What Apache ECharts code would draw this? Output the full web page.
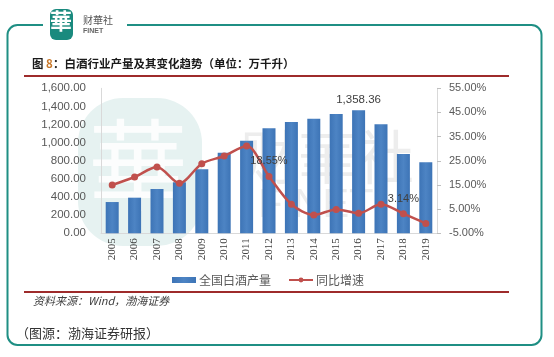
<!DOCTYPE html>
<html>
<head>
<meta charset="utf-8">
<script src="https://cdn.jsdelivr.net/npm/echarts@6/dist/echarts.min.js"></script>
<style>
html,body{margin:0;padding:0;background:#fff;}
#chart{width:554px;height:357px;}
</style>
</head>
<body>
<div id="chart"></div>
<script>
const years = ['2005','2006','2007','2008','2009','2010','2011','2012','2013','2014','2015','2016','2017','2018','2019'];
const production = [345, 393, 489, 563, 706, 890, 1022, 1159, 1228, 1265, 1317, 1358.36, 1203, 875, 784];
const growth = [15.0, 18.3, 22.4, 15.7, 23.8, 27.0, 31.1, 18.55, 7.0, 2.6, 4.9, 3.3, 7.0, 3.14, -0.9];
const leftTicks = [0, 200, 400, 600, 800, 1000, 1200, 1400, 1600];
const rightTicks = [-5, 5, 15, 25, 35, 45, 55];
const barLabelYears = ['2016'];
const lineLabelYears = ['2012', '2018'];

const chart = echarts.init(document.getElementById('chart'), null, {renderer: 'canvas'});

function fmtNum(v) {
  return Number(v).toLocaleString('en-US', {minimumFractionDigits: 2, maximumFractionDigits: 2});
}

const teal = '#1f8f84';

const option = {
  backgroundColor: '#ffffff',
  animation: false,
  textStyle: {fontFamily: 'Liberation Sans, Arial, sans-serif'},
  grid: {left: 101, right: 117, top: 88.3, bottom: 123.7, outerBoundsMode: 'none', containLabel: false},
  legend: {
    left: 167, top: 269,
    itemGap: 17,
    itemWidth: 24, itemHeight: 6,
    textStyle: {color: '#595959', fontSize: 12, fontFamily: 'Noto Sans CJK SC', padding: [0, 0, 0, -2]},
    data: [
      {name: '全国白酒产量', icon: 'rect'},
      {name: '同比增速'}
    ]
  },
  xAxis: {
    type: 'category',
    data: years,
    axisLine: {lineStyle: {color: '#d9d9d9', width: 1}},
    axisTick: {show: false},
    axisLabel: {rotate: 90, margin: 5, color: '#404040', fontSize: 11, fontFamily: 'Liberation Serif, Times New Roman, serif'}
  },
  yAxis: [
    {
      type: 'value', min: leftTicks[0], max: leftTicks[leftTicks.length - 1], interval: 200,
      splitLine: {show: false},
      axisLine: {show: true, lineStyle: {color: '#d9d9d9'}},
      axisTick: {show: false},
      axisLabel: {margin: 15, color: '#595959', fontSize: 11.5, formatter: v => fmtNum(v)}
    },
    {
      type: 'value', min: rightTicks[0], max: rightTicks[rightTicks.length - 1], interval: 10,
      position: 'right',
      splitLine: {show: false},
      axisLine: {show: true, lineStyle: {color: '#d9d9d9'}},
      axisTick: {show: true, length: 4, inside: false, lineStyle: {color: '#bfbfbf'}, customValues: rightTicks},
      axisLabel: {margin: 12, color: '#595959', fontSize: 11, customValues: rightTicks, formatter: v => Number(v).toFixed(2) + '%'}
    }
  ],
  series: [
    {
      name: '全国白酒产量',
      type: 'bar',
      yAxisIndex: 0,
      barWidth: 13,
      itemStyle: {
        color: new echarts.graphic.LinearGradient(0, 0, 1, 0, [
          {offset: 0, color: '#3d74b6'},
          {offset: 0.5, color: '#4d84c4'},
          {offset: 1, color: '#3d74b6'}
        ])
      },
      data: production.map((v, i) => ({
        value: v,
        label: {
          show: barLabelYears.includes(years[i]),
          position: 'top', distance: 4,
          color: '#404040', fontSize: 11.5,
          formatter: p => fmtNum(p.value)
        }
      })),
      z: 2
    },
    {
      name: '同比增速',
      type: 'line',
      yAxisIndex: 1,
      smooth: 0.3,
      symbol: 'circle',
      symbolSize: 7,
      lineStyle: {color: '#c0504d', width: 2.5},
      itemStyle: {color: '#c0504d'},
      data: growth.map((v, i) => ({
        value: v,
        label: {
          show: lineLabelYears.includes(years[i]),
          position: 'top', distance: 6,
          color: '#404040', fontSize: 11,
          formatter: p => Number(p.value).toFixed(2) + '%'
        }
      })),
      z: 3
    }
  ],
  graphic: [
    // watermark
    {type: 'rect', z: -10, shape: {x: 78, y: 98, width: 124, height: 148, r: 45}, style: {fill: '#e6f2f1'}},
    {type: 'text', z: -9, left: 88, top: 115, style: {text: '華', fontSize: 100, fontFamily: 'Noto Sans CJK SC', fill: '#ffffff', opacity: 0.85}},
    {type: 'text', z: -9, left: 240, top: 128, style: {text: '财華社', fontSize: 58, fontFamily: 'Noto Sans CJK SC', fill: '#888888', opacity: 0.15}},
    {type: 'text', z: -9, left: 258, top: 186, style: {text: 'FINET', fontSize: 40, fontFamily: 'Liberation Sans', fill: '#888888', opacity: 0.15, letterSpacing: 8}},
    // frame
    {type: 'rect', z: 0, shape: {x: 7.5, y: 25, width: 534, height: 320, r: 10}, style: {fill: null, stroke: teal, lineWidth: 2}},
    {type: 'rect', z: 1, shape: {x: 43, y: 20, width: 84, height: 10}, style: {fill: '#ffffff'}},
    // logo
    {type: 'rect', z: 2, shape: {x: 50, y: 9, width: 23, height: 31, r: 6}, style: {fill: '#1a8a7e'}},
    {type: 'text', z: 3, left: 50, top: 10, style: {text: '華', fontSize: 22, fontFamily: 'Noto Sans CJK SC', fontWeight: 'bold', fill: '#ffffff'}},
    {type: 'text', z: 3, left: 83, top: 15, style: {text: '财華社', fontSize: 10, fontFamily: 'Noto Sans CJK SC', fill: '#555555'}},
    {type: 'text', z: 3, left: 83, top: 28, style: {text: 'FINET', fontSize: 7, fontFamily: 'Liberation Sans', fontWeight: 'bold', fill: '#666666', letterSpacing: 1}},
    // title
    {type: 'text', z: 3, left: 32, top: 58, style: {
      text: '{a|图 }{b|8}{a|：白酒行业产量及其变化趋势（单位：万千升）}',
      rich: {
        a: {fontSize: 11.5, fontWeight: 'bold', fontFamily: 'Noto Sans CJK SC', fill: '#1a1a1a'},
        b: {fontSize: 11.5, fontWeight: 'bold', fontFamily: 'Noto Sans CJK SC', fill: '#c8782a'}
      }
    }},
    {type: 'rect', z: 3, shape: {x: 24, y: 75, width: 485, height: 2}, style: {fill: '#9e2b2b'}},
    // source
    {type: 'rect', z: 3, shape: {x: 24, y: 291, width: 485, height: 2}, style: {fill: '#9e2b2b'}},
    {type: 'text', z: 3, left: 33, top: 295, style: {text: '资料来源：Wind，渤海证券', fontSize: 11, fontStyle: 'italic', fontFamily: 'Noto Sans CJK SC', fill: '#404040'}},
    {type: 'text', z: 3, left: 16, top: 327, style: {text: '（图源：渤海证券研报）', fontSize: 13, fontFamily: 'Noto Sans CJK SC', fill: '#333333'}}
  ]
};

chart.setOption(option);
</script>
</body>
</html>
